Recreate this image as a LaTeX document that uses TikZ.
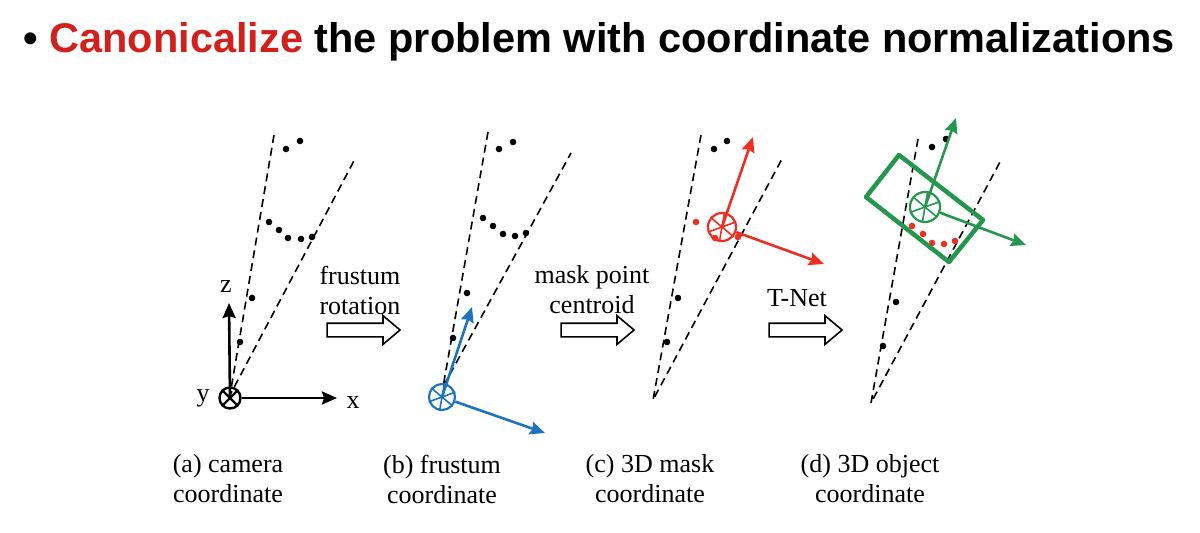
\documentclass[tikz,border=0pt]{standalone}
\usepackage{fontspec}
\setmainfont{Liberation Serif}
\newfontfamily\titlefont{Liberation Sans}
\usetikzlibrary{arrows.meta, shapes.arrows, positioning}
\definecolor{titlered}{RGB}{210,32,28}
\definecolor{axisblue}{RGB}{30,115,190}
\definecolor{axisred}{RGB}{238,45,35}
\definecolor{axisgreen}{RGB}{36,150,78}

\begin{document}
\begin{tikzpicture}[x=1pt, y=-1pt, font=\fontsize{26}{30}\selectfont,
		frustum/.style={line width=1.6pt, dash pattern=on 8pt off 5pt},
		wheel/.style={circle, draw=#1, line width=2.2pt, inner sep=0pt, minimum size=26pt},
		vec/.style={draw=#1, line width=2.6pt, -{Stealth[length=15pt, width=13pt, inset=2pt]}},
		bigarrow/.style={single arrow, draw, line width=1.6pt, fill=white, inner sep=6pt, minimum height=73pt, single arrow head extend=7.5pt, single arrow tip angle=80}]
			\useasboundingbox (0,0) rectangle (1200,533);
			\node [anchor=base west, font=\titlefont\bfseries\fontsize{41.5}{48}\selectfont] (title) at (20,52) {\textbullet\ \textcolor{titlered}{Canonicalize} the problem with coordinate normalizations};
			% (a) camera
			\coordinate (aTip) at (230,395); \coordinate (aL) at (274,135); \coordinate (aR) at (356,157);
			\draw [frustum] (aL) -- (aTip) -- (aR);
			\foreach \p in {(286,149),(300,141),(269,222),(279,230),(288,238),(301,239),(312,237),(252,298),(240,342)}
				\fill \p circle (3.3);
			\node [circle, draw, line width=2.4pt, inner sep=0pt, minimum size=21pt] (camO) at (230,398) {};
			\draw [line width=2.2pt] (camO.45) -- (camO.225) (camO.135) -- (camO.315);
			\coordinate (zEnd) at (229,303); \coordinate (xEnd) at (337,398);
			\draw [vec=black] (camO.center) -- (zEnd);
			\draw [vec=black] (camO) -- (xEnd);
			\node (zLab) at (226,287) {z};
			\node (xLab) at (353,403) {x};
			\node (yLab) at (203,398) {y};
			% (b) frustum
			\coordinate (bTip) at (443,387); \coordinate (bL) at (488,132); \coordinate (bR) at (571,153);
			\draw [frustum] (bL) -- (bTip) -- (bR);
			\foreach \p in {(499,149),(513,142),(483,218),(493,226),(503,234),(515,236),(526,233),(467,293),(453,338)}
				\fill \p circle (3.3);
			\node [wheel=axisblue] (frusO) at (442,397) {};
			\foreach \a in {20,80,...,320} \draw [axisblue, line width=1.6pt] (frusO.center) -- (frusO.\a);
			\coordinate (bUp) at (472,307); \coordinate (bSide) at (545,433);
			\draw [vec=axisblue] (frusO.center) -- (bUp);
			\draw [vec=axisblue] (frusO) -- (bSide);
			% (c) 3D mask
			\coordinate (cTip) at (653,400); \coordinate (cL) at (701,135); \coordinate (cR) at (783,157);
			\draw [frustum] (cL) -- (cTip) -- (cR);
			\foreach \p in {(714,149),(727,141),(678,298),(667,342)}
				\fill \p circle (3.3);
			\foreach \p in {(696,222),(715,238),(738,237)}
				\fill [axisred] \p circle (3.3);
			\node [wheel=axisred, minimum size=28pt] (maskO) at (722,227) {};
			\foreach \a in {20,80,...,320} \draw [axisred, line width=1.6pt] (maskO.center) -- (maskO.\a);
			\coordinate (cUp) at (753,137); \coordinate (cSide) at (824,264);
			\draw [vec=axisred] (maskO.center) -- (cUp);
			\draw [vec=axisred] (maskO) -- (cSide);
			% (d) 3D object
			\coordinate (dTip) at (871,403); \coordinate (dL) at (918,139); \coordinate (dR) at (1000,162);
			\draw [frustum] (dL) -- (dTip) -- (dR);
			\foreach \p in {(932,147),(946,139),(896,302),(883,346)}
				\fill \p circle (3.3);
			\foreach \p in {(912,226),(923,234),(932,243),(944,244),(955,241)}
				\fill [axisred] \p circle (3.3);
			\draw [axisgreen, line width=4.5pt, line join=round] (899,155) -- (983,220) -- (949,262) -- (866,197) -- cycle;
			\node [wheel=axisgreen, minimum size=30pt] (objO) at (925,207) {};
			\foreach \a in {20,80,...,320} \draw [axisgreen, line width=1.6pt] (objO.center) -- (objO.\a);
			\coordinate (dUp) at (956,118); \coordinate (dSide) at (1026,245);
			\draw [vec=axisgreen] (objO.center) -- (dUp);
			\draw [vec=axisgreen] (objO) -- (dSide);
			% transforms
			\node [bigarrow] (rotArrow) at (359.5,330) {};
			\node [bigarrow] (maskArrow) at (593.5,330) {};
			\node [bigarrow] (tnetArrow) at (801.5,330) {};
			\node [align=center] (rotLab) at (360,290) {frustum\\rotation};
			\node [align=center] (maskLab) at (592,290) {mask point\\centroid};
			\node (tnetLab) at (797,298) {T-Net};
			% captions
			\node [align=center] (capA) at (228,479) {(a) camera\\coordinate};
			\node [align=center] (capB) at (442,479) {(b) frustum\\coordinate};
			\node [align=center] (capC) at (650,479) {(c) 3D mask\\coordinate};
			\node [align=center] (capD) at (870,479) {(d) 3D object\\coordinate};
		\end{tikzpicture}
\end{document}
